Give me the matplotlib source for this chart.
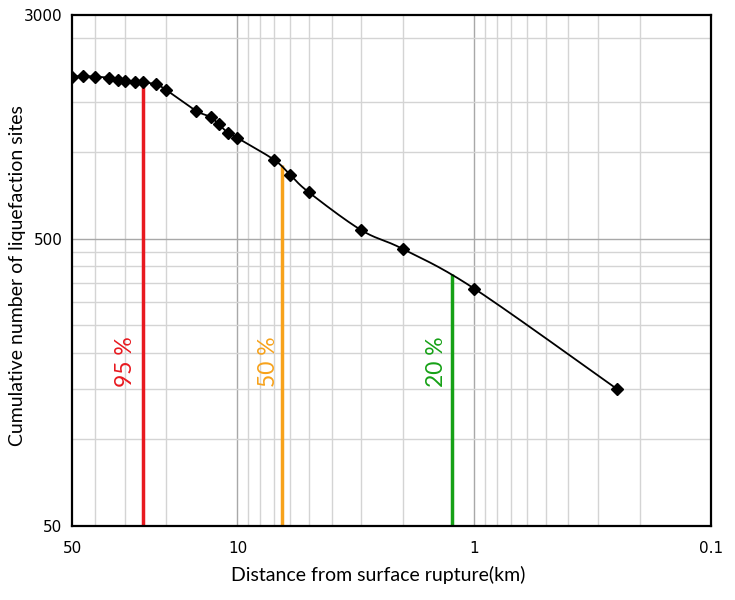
import numpy as np
import matplotlib
matplotlib.use("Agg")
import matplotlib.pyplot as plt

# Data
distance_km = [50, 45, 40, 35, 32, 30, 27, 25, 22, 20, 15, 13, 12, 11, 10,
               7, 6, 5, 3, 2, 1, 0.25]
cum_sites = [1830, 1840, 1830, 1815, 1775, 1770, 1760, 1750, 1720, 1645,
             1395, 1325, 1250, 1170, 1120, 940, 835, 725, 535, 460, 335, 150]

pct_labels = ["95 %", "50 %", "20 %"]
pct_x = [25, 6.5, 1.24]
pct_top = [1750, 900, 378]
pct_label_x = [29.6, 7.4, 1.44]
pct_label_y = 186
pct_colors = ["#e8191f", "#f7a21b", "#16a116"]

y_ticks = [50, 500, 3000]
x_ticks = [50, 10, 1, 0.1]
x_ticklabels = ["50", "10", "1", "0.1"]
y_minor_grid = [100, 150, 200, 250, 300, 350, 400, 450, 1000, 1500, 2500]
x_minor_grid = [40, 30, 20, 9, 8, 7, 6, 5, 4, 3, 2,
                0.9, 0.8, 0.7, 0.6, 0.5, 0.4, 0.3, 0.2]

label_font = ["Lato", "DejaVu Sans"]

fig = plt.figure(figsize=(7.35, 6.0), dpi=100)
ax = fig.add_axes([72/735, 1 - 526/600, (711-72)/735, (526-15)/600])
ax.set_xscale("log")
ax.set_yscale("log")
ax.set_xlim(50, 0.1)
ax.set_ylim(50, 3000)

# grid
for v in x_minor_grid:
    ax.axvline(v, color="#d4d4d4", lw=1.0, zorder=0)
for v in [10, 1]:
    ax.axvline(v, color="#a8a8a8", lw=1.0, zorder=0)
for v in y_minor_grid:
    ax.axhline(v, color="#d4d4d4", lw=1.0, zorder=0)
ax.axhline(500, color="#a8a8a8", lw=1.0, zorder=0)

# smooth curve (Catmull-Rom -> cubic Bezier) in log space
P = np.column_stack([np.log10(distance_km), np.log10(cum_sites)])
n = len(P)
tt = np.linspace(0, 1, 25)[:, None]
segs = []
k = 1/6
for i in range(n - 1):
    p0 = P[i-1] if i > 0 else P[i]
    p1 = P[i]
    p2 = P[i+1]
    p3 = P[i+2] if i + 2 < n else P[i+1]
    c1 = p1 + (p2 - p0) * k
    c2 = p2 - (p3 - p1) * k
    b = ((1-tt)**3) * p1 + 3*((1-tt)**2)*tt*c1 + 3*(1-tt)*tt**2*c2 + tt**3*p2
    segs.append(b if i == 0 else b[1:])
curve = np.vstack(segs)
ax.plot(10**curve[:, 0], 10**curve[:, 1], color="black", lw=1.3, zorder=3)

# vertical percentile lines
for xv, top, c in zip(pct_x, pct_top, pct_colors):
    ax.plot([xv, xv], [50, top], color=c, lw=2.5, zorder=2, solid_capstyle="butt")

ax.plot(distance_km, cum_sites, linestyle="none", marker="D", markersize=6.5,
        color="black", zorder=4)

# percentile labels
for lab, xl, c in zip(pct_labels, pct_label_x, pct_colors):
    ax.text(xl, pct_label_y, lab, rotation=90, color=c, fontsize=16.5,
            family=label_font, ha="center", va="center")

ax.set_yticks(y_ticks)
ax.set_yticklabels([str(v) for v in y_ticks])
ax.set_xticks(x_ticks)
ax.set_xticklabels(x_ticklabels)
ax.minorticks_off()
ax.tick_params(axis="x", length=0, labelsize=11, pad=11)
ax.tick_params(axis="y", length=0, labelsize=11, pad=7)
for s in ax.spines.values():
    s.set_linewidth(1.6)
    s.set_color("black")

fig.text(378/735, 1 - 575/600, "Distance from surface rupture(km)",
         family=label_font, fontsize=14, ha="center", va="center")
fig.text(18/735, 1 - 276/600, "Cumulative number of liquefaction sites",
         family=label_font, fontsize=14, ha="center", va="center", rotation=90)

fig.savefig("out.png", dpi=100)
